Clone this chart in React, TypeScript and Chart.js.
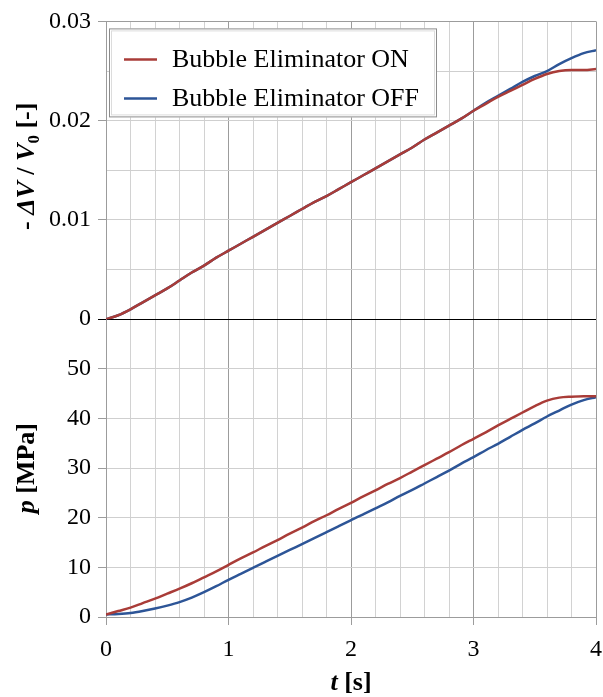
import React, { useEffect, useRef } from 'react';
import { Chart, registerables } from 'chart.js';

Chart.register(...registerables);

const FONT = "'Liberation Serif', 'Times New Roman', serif";
Chart.defaults.font.family = FONT;

const times = [
  0, 0.1, 0.2, 0.3, 0.4, 0.5, 0.6, 0.7, 0.8, 0.9, 1.0, 1.1, 1.2, 1.3, 1.4, 1.5, 1.6, 1.7, 1.8, 1.9, 2.0,
  2.1, 2.2, 2.3, 2.4, 2.5, 2.6, 2.7, 2.8, 2.9, 3.0, 3.1, 3.2, 3.3, 3.4, 3.5, 3.6, 3.7, 3.8, 3.9, 4.0,
];

const volumeOn = [
  0, 0.0004, 0.001, 0.0017, 0.0024, 0.0031, 0.0039, 0.0047, 0.0054, 0.0062, 0.0069, 0.0076, 0.0083, 0.009,
  0.0097, 0.0104, 0.0111, 0.0118, 0.0124, 0.0131, 0.0138, 0.0145, 0.0152, 0.0159, 0.0166, 0.0173, 0.0181,
  0.0188, 0.0195, 0.0202, 0.021, 0.0217, 0.0224, 0.023, 0.0236, 0.0242, 0.0247, 0.025, 0.0251, 0.0251, 0.0252,
];

const volumeOff = [
  0, 0.0004, 0.001, 0.0017, 0.0024, 0.0031, 0.0039, 0.0047, 0.0054, 0.0062, 0.0069, 0.0076, 0.0083, 0.009,
  0.0097, 0.0104, 0.0111, 0.0118, 0.0124, 0.0131, 0.0138, 0.0145, 0.0152, 0.0159, 0.0166, 0.0173, 0.0181,
  0.0188, 0.0195, 0.0202, 0.021, 0.0218, 0.0225, 0.0232, 0.0239, 0.0245, 0.025, 0.0257, 0.0263, 0.0268, 0.0271,
];

const pressureOn = [
  0.5, 1.2, 1.9, 2.8, 3.7, 4.7, 5.7, 6.8, 8.0, 9.2, 10.5, 11.8, 13.0, 14.3, 15.5, 16.8, 18.0, 19.3, 20.5, 21.8,
  23.0, 24.3, 25.5, 26.8, 28.0, 29.3, 30.6, 31.9, 33.2, 34.6, 35.9, 37.2, 38.6, 39.9, 41.2, 42.5, 43.6, 44.2,
  44.4, 44.5, 44.5,
];

const pressureOff = [
  0.5, 0.6, 0.8, 1.2, 1.7, 2.3, 3.0, 3.9, 5.0, 6.2, 7.5, 8.7, 9.9, 11.1, 12.3, 13.5, 14.7, 15.9, 17.1, 18.3,
  19.5, 20.7, 21.9, 23.1, 24.4, 25.6, 26.9, 28.2, 29.5, 30.9, 32.2, 33.6, 34.9, 36.3, 37.7, 39.0, 40.4, 41.6,
  42.8, 43.7, 44.3,
];

const seriesLabels = ['Bubble Eliminator ON', 'Bubble Eliminator OFF'];
const seriesColors = ['#a93c38', '#2d5597'];

const xTickValues = [0, 1, 2, 3, 4];
const volumeTickValues = [0, 0.01, 0.02, 0.03];
const pressureTickValues = [0, 10, 20, 30, 40, 50];

const near = (v: number, list: number[]) => list.some((t) => Math.abs(t - v) < 1e-7);

const toPoints = (ys: number[]) => times.map((t, i) => ({ x: t, y: ys[i] }));

type Seg = { text: string; italic?: boolean; sub?: boolean };

function drawSegments(ctx: CanvasRenderingContext2D, segs: Seg[], size: number) {
  const fontFor = (s: Seg) => `${s.italic ? 'italic ' : ''}bold ${s.sub ? Math.round(size * 0.65) : size}px ${FONT}`;
  let total = 0;
  const widths = segs.map((s) => {
    ctx.font = fontFor(s);
    const w = ctx.measureText(s.text).width;
    total += w;
    return w;
  });
  let x = -total / 2;
  ctx.textBaseline = 'middle';
  ctx.textAlign = 'left';
  segs.forEach((s, i) => {
    ctx.font = fontFor(s);
    ctx.fillText(s.text, x, s.sub ? size * 0.28 : 0);
    x += widths[i];
  });
}

const overlayPlugin = {
  id: 'overlay',
  afterDraw(chart: any) {
    const ctx: CanvasRenderingContext2D = chart.ctx;
    const yV = chart.scales.yV;
    const yP = chart.scales.yP;
    const x = chart.scales.x;
    const area = chart.chartArea;
    ctx.save();
    ctx.fillStyle = '#000';

    ctx.save();
    ctx.translate(27, (yV.top + yV.bottom) / 2 - 4);
    ctx.rotate(-Math.PI / 2);
    drawSegments(
      ctx,
      [
        { text: '- ' },
        { text: 'ΔV', italic: true },
        { text: ' / ' },
        { text: 'V', italic: true },
        { text: '0', sub: true },
        { text: ' [-]' },
      ],
      26
    );
    ctx.restore();

    ctx.save();
    ctx.translate(27, (yP.top + yP.bottom) / 2);
    ctx.rotate(-Math.PI / 2);
    drawSegments(ctx, [{ text: 'p', italic: true }, { text: ' [MPa]' }], 26);
    ctx.restore();

    ctx.save();
    ctx.translate((x.left + x.right) / 2, 683);
    drawSegments(ctx, [{ text: 't', italic: true }, { text: ' [s]' }], 26);
    ctx.restore();

    const lx = area.left + 3;
    const ly = area.top + 7;
    const lw = 328;
    const lh = 89;
    ctx.fillStyle = '#fff';
    ctx.fillRect(lx, ly, lw, lh);
    ctx.strokeStyle = '#8c8c8c';
    ctx.lineWidth = 1;
    ctx.strokeRect(lx + 0.5, ly + 0.5, lw - 1, lh - 1);
    ctx.strokeStyle = '#dcdcdc';
    ctx.strokeRect(lx + 2.5, ly + 2.5, lw - 5, lh - 5);
    const rows = [ly + 31, ly + 70];
    seriesLabels.forEach((label, i) => {
      ctx.strokeStyle = seriesColors[i];
      ctx.lineWidth = 2.5;
      ctx.beginPath();
      ctx.moveTo(lx + 15, rows[i]);
      ctx.lineTo(lx + 48, rows[i]);
      ctx.stroke();
      ctx.fillStyle = '#000';
      ctx.font = `26px ${FONT}`;
      ctx.textAlign = 'left';
      ctx.textBaseline = 'middle';
      ctx.fillText(label, lx + 63, rows[i] + 1);
    });
    ctx.restore();
  },
};

export default function App() {
  const canvasRef = useRef<HTMLCanvasElement>(null);

  useEffect(() => {
    const canvas = canvasRef.current;
    if (!canvas) return;
    const tickFont = { family: FONT, size: 24 };
    const lineDataset = (label: string, ys: number[], axis: string, color: string) => ({
      label,
      data: toPoints(ys),
      yAxisID: axis,
      borderColor: color,
      borderWidth: 2.5,
      pointRadius: 0,
      cubicInterpolationMode: 'monotone',
    });
    const chart = new Chart(canvas, {
      type: 'line',
      data: {
        datasets: [
          lineDataset(seriesLabels[0], volumeOn, 'yV', seriesColors[0]),
          lineDataset(seriesLabels[0], pressureOn, 'yP', seriesColors[0]),
          lineDataset(seriesLabels[1], volumeOff, 'yV', seriesColors[1]),
          lineDataset(seriesLabels[1], pressureOff, 'yP', seriesColors[1]),
        ],
      },
      options: {
        responsive: false,
        animation: false,
        devicePixelRatio: 1,
        layout: { padding: { top: 21, right: 7, left: 0, bottom: 0 } },
        plugins: { legend: { display: false }, tooltip: { enabled: false } },
        scales: {
          x: {
            type: 'linear',
            position: 'bottom',
            min: 0,
            max: 4,
            afterFit: (s: any) => {
              s.height = 80;
              s.paddingLeft = 0;
              s.paddingRight = 0;
            },
            ticks: {
              stepSize: 0.2,
              autoSkip: false,
              maxRotation: 0,
              padding: 10,
              font: tickFont,
              color: '#000',
              callback: (v: any) => (near(Number(v), xTickValues) ? String(Math.round(Number(v))) : ''),
            },
            grid: {
              color: (c: any) => (c.tick && near(c.tick.value, xTickValues) ? '#9c9c9c' : '#d2d2d2'),
              tickColor: (c: any) => (c.tick && near(c.tick.value, xTickValues) ? '#9c9c9c' : 'rgba(0,0,0,0)'),
              tickLength: 8,
              lineWidth: 1,
            },
            border: { color: '#9c9c9c' },
          },
          yP: {
            type: 'linear',
            position: 'left',
            stack: 'panels',
            stackWeight: 1,
            min: 0,
            max: 60,
            afterFit: (s: any) => {
              s.width = 106;
            },
            ticks: {
              stepSize: 10,
              autoSkip: false,
              padding: 7,
              font: tickFont,
              color: '#000',
              callback: (v: any) => (near(Number(v), pressureTickValues) ? String(v) : ''),
            },
            grid: {
              color: (c: any) =>
                c.tick && c.tick.value === 60 ? '#000' : c.tick && c.tick.value === 0 ? '#9c9c9c' : '#cfcfcf',
              tickColor: (c: any) =>
                c.tick && near(c.tick.value, pressureTickValues) ? '#9c9c9c' : 'rgba(0,0,0,0)',
              tickLength: 8,
              lineWidth: 1,
            },
            border: { color: '#9c9c9c' },
          },
          yV: {
            type: 'linear',
            position: 'left',
            stack: 'panels',
            stackWeight: 1,
            min: 0,
            max: 0.03,
            afterFit: (s: any) => {
              s.width = 106;
            },
            ticks: {
              stepSize: 0.005,
              autoSkip: false,
              padding: 7,
              font: tickFont,
              color: '#000',
              callback: (v: any) => {
                const n = Number(v);
                if (!near(n, volumeTickValues)) return '';
                return n === 0 ? '0' : n.toFixed(2);
              },
            },
            grid: {
              color: (c: any) =>
                c.tick && Math.abs(c.tick.value) < 1e-9
                  ? '#000'
                  : c.tick && Math.abs(c.tick.value - 0.03) < 1e-9
                  ? '#9c9c9c'
                  : '#cfcfcf',
              tickColor: (c: any) =>
                c.tick && Math.abs(c.tick.value) < 1e-9
                  ? '#000'
                  : c.tick && near(c.tick.value, volumeTickValues)
                  ? '#9c9c9c'
                  : 'rgba(0,0,0,0)',
              tickLength: 8,
              lineWidth: 1,
            },
            border: { color: '#9c9c9c' },
          },
        },
      } as any,
      plugins: [overlayPlugin],
    });
    return () => chart.destroy();
  }, []);

  return (
    <div style={{ position: 'absolute', left: 0, top: 0, width: 603, height: 697, background: '#fff' }}>
      <canvas ref={canvasRef} width={603} height={697} style={{ display: 'block' }} />
    </div>
  );
}
